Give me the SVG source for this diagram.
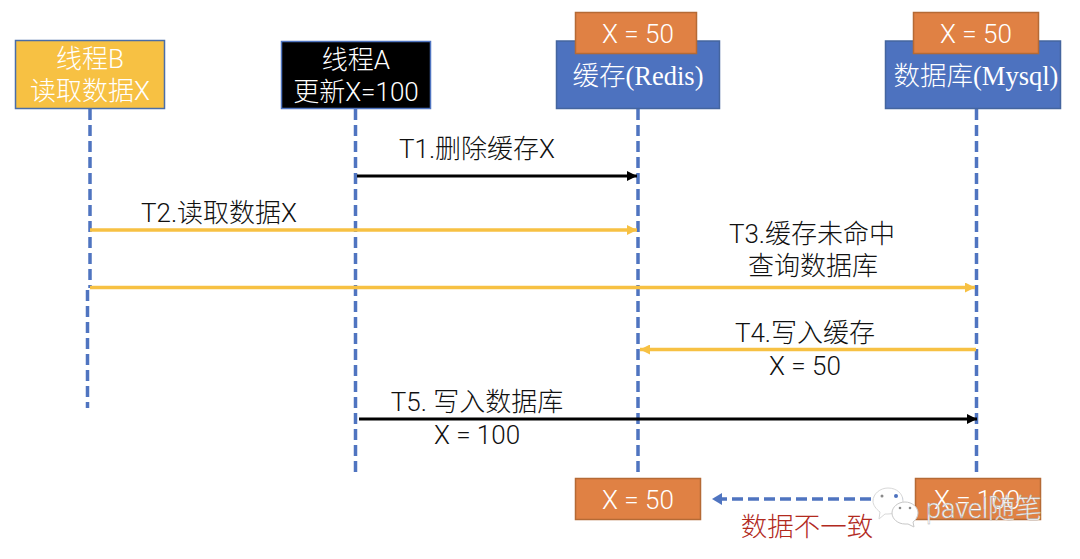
<svg xmlns="http://www.w3.org/2000/svg" width="1080" height="559" viewBox="0 0 1080 559">
<style>
text{font-family:Roboto,"Noto Sans CJK SC",sans-serif;font-size:26px;text-anchor:middle;font-weight:300}
.w{fill:#fff}.k{fill:#111}
.s{font-family:"Liberation Serif","Noto Sans CJK SC",serif;font-size:26.500px;font-weight:300}
.life{stroke:#4f74c0;stroke-width:3.500;stroke-dasharray:11 5;fill:none}
.blue{fill:#4d72bf;stroke:#44659f;stroke-width:1.5}
.or{fill:#e08144;stroke:#b56a35;stroke-width:1.5}
.ye{stroke:#f7c143;stroke-width:3.500;fill:none}
.bl{stroke:#000;stroke-width:3.200;fill:none}
</style>
<defs>
<marker id="ay" markerUnits="userSpaceOnUse" markerWidth="12" markerHeight="10" refX="10" refY="5" orient="auto"><path d="M0 0L10 5L0 10Z" fill="#f7c143"/></marker>
<marker id="ab" markerUnits="userSpaceOnUse" markerWidth="12" markerHeight="10" refX="10" refY="5" orient="auto"><path d="M0 0L10 5L0 10Z" fill="#000"/></marker>
<marker id="au" markerUnits="userSpaceOnUse" markerWidth="12" markerHeight="12" refX="10" refY="6" orient="auto"><path d="M0 0L10 6L0 12Z" fill="#4f74c0"/></marker>
</defs>
<g id="lifelines">
<path class="life" d="M90 109V288"/>
<path class="life" d="M87.500 290V408"/>
<path class="life" d="M355.500 109V474"/>
<path class="life" d="M638 109V474"/>
<path class="life" d="M976.500 109V474"/>
</g>
<g id="connectors">
<path class="bl" d="M357 176H637" marker-end="url(#ab)"/>
<path class="ye" d="M90 230H637" marker-end="url(#ay)"/>
<path class="ye" d="M90 287.500H975" marker-end="url(#ay)"/>
<path class="ye" d="M976 349.500H640" marker-end="url(#ay)"/>
<path class="bl" d="M359 419H977" marker-end="url(#ab)"/>
<path d="M903 499H712" fill="none" stroke="#4f74c0" stroke-width="3.500" stroke-dasharray="11 5" marker-end="url(#au)"/>
</g>
<g id="threadB">
<rect x="15.500" y="40.500" width="149" height="68" fill="#f7c143" stroke="#4a6ea8" stroke-width="1.500"/>
<text class="w" x="90" y="68">线程B</text>
<text class="w" x="90" y="100">读取数据X</text>
</g>
<g id="threadA">
<rect x="281.500" y="41.500" width="149" height="67" fill="#000" stroke="#4f74c0" stroke-width="1.500"/>
<text class="w" x="356" y="69">线程A</text>
<text class="w" x="356" y="101">更新X=100</text>
</g>
<g id="redis">
<rect class="blue" x="556.500" y="41" width="163" height="67.500"/>
<text class="w s" x="638" y="85">缓存(Redis)</text>
</g>
<g id="mysql">
<rect class="blue" x="885.500" y="41" width="175" height="67.500"/>
<text class="w s" x="976" y="85">数据库(Mysql)</text>
</g>
<g id="redis-value-top">
<rect class="or" x="575.500" y="12.500" width="121" height="41"/>
<text class="w" x="638" y="43">X = 50</text>
</g>
<g id="mysql-value-top">
<rect class="or" x="913.500" y="12.500" width="125" height="41"/>
<text class="w" x="976" y="43">X = 50</text>
</g>
<g id="redis-value-bottom">
<rect class="or" x="575.500" y="478.500" width="125" height="41"/>
<text class="w" x="638" y="509">X = 50</text>
</g>
<g id="mysql-value-bottom">
<rect class="or" x="915.500" y="478.500" width="125" height="41"/>
<text class="w" x="977" y="509">X = 100</text>
</g>
<g id="labels">
<text class="k" x="477" y="158">T1.删除缓存X</text>
<text class="k" x="219" y="222">T2.读取数据X</text>
<text class="k" x="812" y="243">T3.缓存未命中</text>
<text class="k" x="813" y="275">查询数据库</text>
<text class="k" x="805" y="342">T4.写入缓存</text>
<text class="k" x="805" y="375">X = 50</text>
<text class="k" x="477" y="411">T5. 写入数据库</text>
<text class="k" x="477" y="444">X = 100</text>
<text x="807" y="536" style="fill:#b22a1e;font-size:26.500px">数据不一致</text>
</g>
<g id="watermark">
<path d="M888 488c9 0 15 6 15 13 0 7-6 13-15 13l-3 0-6 5 1-7c-4-3-7-7-7-11 0-7 7-13 15-13z" fill="#fff" stroke="#d8d8d8" stroke-width="1"/>
<circle cx="882" cy="496" r="1.500" fill="#8a8a8a"/>
<circle cx="896" cy="496" r="2" fill="#4d72bf"/>
<path d="M905 502c7 0 13 5 13 11 0 3-2 7-5 9l1 5-6-3-3 0c-7 0-13-5-13-11 0-6 6-11 13-11z" fill="#fff" stroke="#c8c8c8" stroke-width="1"/>
<circle cx="900" cy="508" r="1.300" fill="#8a8a8a"/>
<circle cx="910" cy="508" r="1.300" fill="#8a8a8a"/>
<text x="984" y="518" style="fill:#fff;stroke:#aaa;stroke-width:.4;font-size:27px">pavel随笔</text>
</g>
</svg>
